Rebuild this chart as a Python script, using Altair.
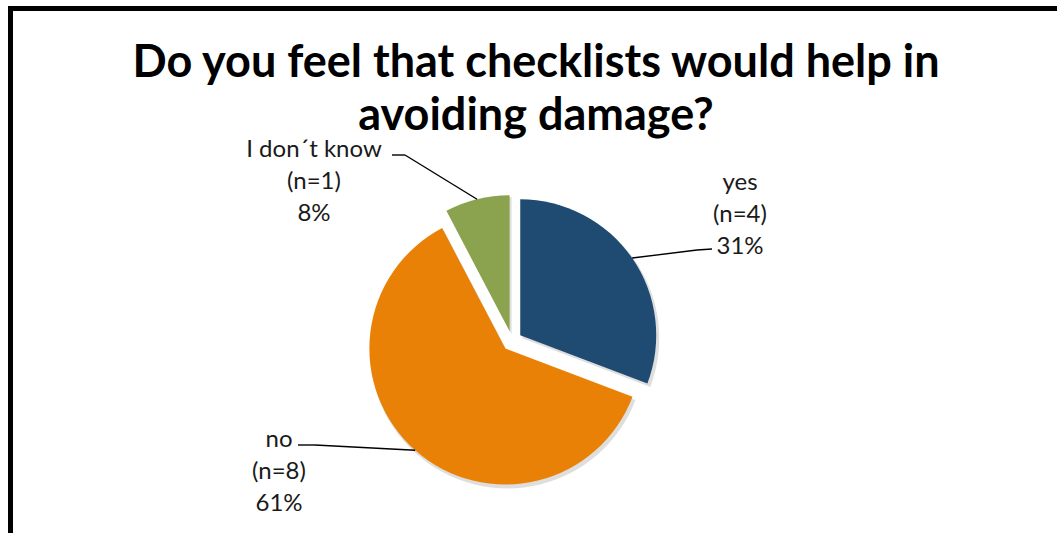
import altair as alt
import pandas as pd

# ---- data ----
categories = ["yes", "no", "I don´t know"]
counts = [4, 8, 1]
pct_labels = ["31%", "61%", "8%"]
colors = ["#1F4A72", "#EA8107", "#8BA24E"]
title_lines = ["Do you feel that checklists would help in", "avoiding damage?"]

# ---- layout (pixels) ----
CX, CY = 512, 341          # pie centre
R = 136                    # pie radius
EXPLODE = 10               # slice explosion
FONT = "Lato"
# annotation placement, offsets from pie centre
label_off = {"yes": (228, -151), "no": (-233, 106), "I don´t know": (-198, -184)}
elbow_off = {"yes": (185, -91), "no": (-197, 104), "I don´t know": (-107, -186)}
end_off = {"yes": (200, -92), "no": (-214, 104), "I don´t know": (-120, -186)}

df = pd.DataFrame({
    "cat": categories,
    "n": counts,
    "pct": pct_labels,
    "order": list(range(len(categories))),
})
df["lab"] = [f"{c}\n(n={n})\n{p}" for c, n, p in zip(categories, counts, pct_labels)]
df["ldx"] = [label_off[c][0] for c in categories]
df["ldy"] = [label_off[c][1] for c in categories]
df["bdx"] = [elbow_off[c][0] for c in categories]
df["bdy"] = [elbow_off[c][1] for c in categories]
df["tdx"] = [end_off[c][0] for c in categories]
df["tdy"] = [end_off[c][1] for c in categories]

base = (
    alt.Chart(df)
    .transform_joinaggregate(total="sum(n)")
    .transform_window(cum="sum(n)", sort=[alt.SortField("order")], frame=[None, 0])
    .transform_calculate(a1="datum.cum / datum.total * 2 * PI")
    .transform_calculate(a0="(datum.cum - datum.n) / datum.total * 2 * PI")
    .transform_calculate(mid="(datum.a0 + datum.a1) / 2")
    .transform_calculate(cx=f"{CX} + {EXPLODE} * sin(datum.mid)")
    .transform_calculate(cy=f"{CY} - {EXPLODE} * cos(datum.mid)")
    .transform_calculate(ex=f"datum.cx + {R} * sin(datum.mid)")
    .transform_calculate(ey=f"datum.cy - {R} * cos(datum.mid)")
    .transform_calculate(sx="datum.cx + 2", sy="datum.cy + 3")
    .transform_calculate(bx=f"{CX} + datum.bdx", by=f"{CY} + datum.bdy")
    .transform_calculate(tx=f"{CX} + datum.tdx", ty=f"{CY} + datum.tdy")
    .transform_calculate(lx=f"{CX} + datum.ldx", ly=f"{CY} + datum.ldy")
)

shadow = base.mark_arc(outerRadius=R + 1, color="#000000", opacity=0.13).encode(
    theta=alt.Theta("a0:Q", scale=None),
    theta2=alt.Theta2("a1:Q"),
    x=alt.X("sx:Q", scale=None),
    y=alt.Y("sy:Q", scale=None),
)

arcs = base.mark_arc(outerRadius=R).encode(
    theta=alt.Theta("a0:Q", scale=None),
    theta2=alt.Theta2("a1:Q"),
    x=alt.X("cx:Q", scale=None),
    y=alt.Y("cy:Q", scale=None),
    color=alt.Color("cat:N", scale=alt.Scale(domain=categories, range=colors), legend=None),
)

lead1 = base.mark_rule(color="black", strokeWidth=1.4).encode(
    x=alt.X("ex:Q", scale=None), y=alt.Y("ey:Q", scale=None),
    x2="bx:Q", y2="by:Q",
)
lead2 = base.mark_rule(color="black", strokeWidth=1.4).encode(
    x=alt.X("bx:Q", scale=None), y=alt.Y("by:Q", scale=None),
    x2="tx:Q", y2="ty:Q",
)

labels = base.mark_text(
    font=FONT, fontSize=24, lineBreak="\n", lineHeight=32,
    align="center", baseline="alphabetic", color="#1a1a1a",
).encode(
    x=alt.X("lx:Q", scale=None), y=alt.Y("ly:Q", scale=None), text="lab:N"
)

one = pd.DataFrame({"a": [0]})
title = alt.Chart(one).mark_text(
    font=FONT, fontSize=45, fontWeight="bold", lineBreak="\n", lineHeight=53,
    align="center", baseline="alphabetic", color="#000000",
).encode(
    x=alt.value(536), y=alt.value(77), text=alt.value("\n".join(title_lines))
)

frame = alt.Chart(one).mark_rect(fillOpacity=0, stroke="black", strokeWidth=5).encode(
    x=alt.value(10.5), x2=alt.value(1400), y=alt.value(8.5), y2=alt.value(900)
)

chart = (
    alt.layer(frame, shadow, arcs, lead1, lead2, labels, title)
    .properties(width=1057, height=533, autosize=alt.AutoSizeParams(type="none"), padding=0,
                background="white")
    .configure_view(stroke=None)
)

chart.save("out.html", embed_options={"renderer": "svg", "actions": False})
